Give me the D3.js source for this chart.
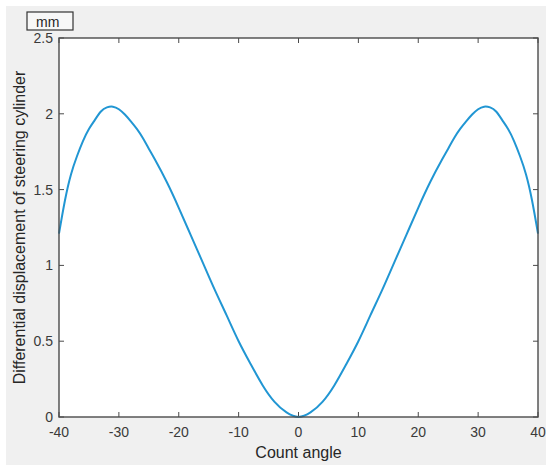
<!DOCTYPE html>
<html>
<head>
<meta charset="utf-8">
<script src="https://cdn.jsdelivr.net/npm/d3@7"></script>
<style>
  body { margin: 0; background: #fff; }
  text { font-family: "Liberation Sans", Arial, sans-serif; }
</style>
</head>
<body>
<script>
var width = 550,
    height = 476;

// values (angle -> displacement, mm)
var angles = [-40, -39, -38, -37, -36, -35, -34, -33, -32, -31, -30, -29, -28, -27, -26, -25, -24, -22, -20, -18, -16, -14, -12, -10, -8, -6, -4, -2,
              0, 2, 4, 6, 8, 10, 12, 14, 16, 18, 20, 22, 24, 25, 26, 27, 28, 29, 30, 31, 32, 33, 34, 35, 36, 37, 38, 39, 40];
var displacement = [1.21, 1.43, 1.60, 1.72, 1.82, 1.90, 1.96, 2.015, 2.042, 2.047, 2.03, 1.995, 1.95, 1.90, 1.84, 1.77, 1.70, 1.55, 1.38, 1.20, 1.02, 0.84, 0.67, 0.50, 0.35, 0.21, 0.10, 0.03,
                    0.00, 0.03, 0.10, 0.21, 0.35, 0.50, 0.67, 0.84, 1.02, 1.20, 1.38, 1.55, 1.70, 1.77, 1.84, 1.90, 1.95, 1.995, 2.03, 2.047, 2.042, 2.015, 1.96, 1.90, 1.82, 1.72, 1.60, 1.43, 1.21];
var xTicks = [-40, -30, -20, -10, 0, 10, 20, 30, 40];
var yTicks = [0, 0.5, 1, 1.5, 2, 2.5];

var margin = {left: 59, top: 38, right: 538, bottom: 417};

var svg = d3.select("body")
  .append("svg")
  .attr("width", width)
  .attr("height", height);

// figure background
svg.append("rect")
  .attr("x", 6).attr("y", 6)
  .attr("width", 540).attr("height", 459)
  .attr("fill", "#f0f0f0");

var xScale = d3.scaleLinear()
  .domain([-40, 40])
  .range([margin.left, margin.right]);

var yScale = d3.scaleLinear()
  .domain([0, 2.5])
  .range([margin.bottom, margin.top]);

// plot area
svg.append("rect")
  .attr("x", margin.left).attr("y", margin.top)
  .attr("width", margin.right - margin.left)
  .attr("height", margin.bottom - margin.top)
  .attr("fill", "#fff");

var axisColor = "#4a4a4a";
var tickLen = 5;

// x ticks (inside, bottom and top)
xTicks.forEach(function(t) {
  var x = xScale(t);
  svg.append("line").attr("x1", x).attr("x2", x)
    .attr("y1", margin.bottom).attr("y2", margin.bottom - tickLen)
    .attr("stroke", axisColor);
  svg.append("line").attr("x1", x).attr("x2", x)
    .attr("y1", margin.top).attr("y2", margin.top + tickLen)
    .attr("stroke", axisColor);
  svg.append("text")
    .attr("x", x).attr("y", margin.bottom + 20)
    .attr("text-anchor", "middle")
    .attr("font-size", 14)
    .attr("fill", "#3a3a3a")
    .text(t);
});

// y ticks (inside, left and right)
yTicks.forEach(function(t) {
  var y = yScale(t);
  svg.append("line").attr("x1", margin.left).attr("x2", margin.left + tickLen)
    .attr("y1", y).attr("y2", y)
    .attr("stroke", axisColor);
  svg.append("line").attr("x1", margin.right).attr("x2", margin.right - tickLen)
    .attr("y1", y).attr("y2", y)
    .attr("stroke", axisColor);
  svg.append("text")
    .attr("x", margin.left - 6).attr("y", y + 5)
    .attr("text-anchor", "end")
    .attr("font-size", 14)
    .attr("fill", "#3a3a3a")
    .text(t);
});

// curve
var line = d3.line()
  .x(function(d, i) { return xScale(angles[i]); })
  .y(function(d) { return yScale(d); })
  .curve(d3.curveNatural);

svg.append("path")
  .datum(displacement)
  .attr("d", line)
  .attr("fill", "none")
  .attr("stroke", "#2196d3")
  .attr("stroke-width", 2);

// box
svg.append("rect")
  .attr("x", margin.left).attr("y", margin.top)
  .attr("width", margin.right - margin.left)
  .attr("height", margin.bottom - margin.top)
  .attr("fill", "none")
  .attr("stroke", axisColor)
  .attr("stroke-width", 1.4);

// axis labels
svg.append("text")
  .attr("x", (margin.left + margin.right) / 2)
  .attr("y", 458)
  .attr("text-anchor", "middle")
  .attr("font-size", 16)
  .attr("fill", "#262626")
  .text("Count angle");

svg.append("text")
  .attr("transform", "translate(25," + ((margin.top + margin.bottom) / 2) + ") rotate(-90)")
  .attr("text-anchor", "middle")
  .attr("font-size", 16)
  .attr("fill", "#262626")
  .text("Differential displacement of steering cylinder");

// unit box
svg.append("rect")
  .attr("x", 27).attr("y", 12)
  .attr("width", 46).attr("height", 18)
  .attr("fill", "#f7f7f7")
  .attr("stroke", "#333")
  .attr("stroke-width", 1.2);

svg.append("text")
  .attr("x", 36).attr("y", 27)
  .attr("font-size", 14)
  .attr("fill", "#262626")
  .text("mm");
</script>
</body>
</html>
